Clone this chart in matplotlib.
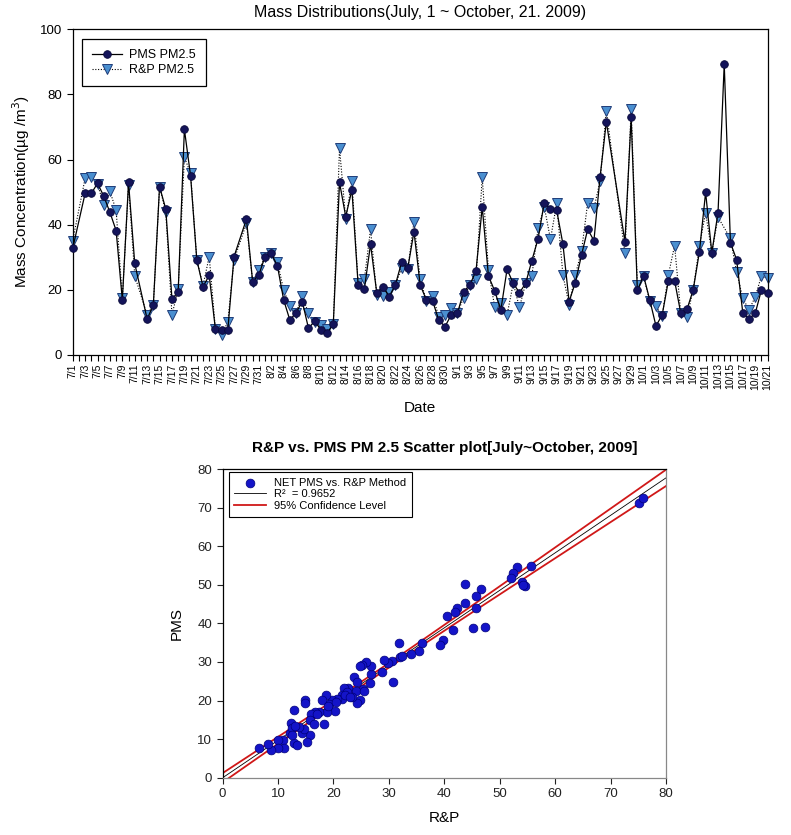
import numpy as np
import pandas as pd
import matplotlib
matplotlib.use('Agg')
import matplotlib.pyplot as plt

plt.rcParams['font.family'] = ['Liberation Sans', 'DejaVu Sans']

# daily values, 7/1 ~ 10/21 2009 (None = no data)
pms = [32.7, None, 49.6, 49.6, 52.7, 48.8, 43.8, 38.2, 16.9, 53.0,
       28.1, None, 11.0, 15.4, 51.7, 44.8, 17.1, 19.4, 69.3, 55.0,
       29.2, 21.0, 24.4, 7.9, 7.7, 7.7, 30.2, None, 41.7, 22.5,
       24.6, 30.2, 31.2, 27.3, 16.9, 10.7, 13.0, 16.4, 8.2, 10.4,
       7.7, 6.7, 9.5, 53.0, 42.5, 50.7, 21.5, 20.2, 34.0, 19.1,
       21.0, 17.9, 21.5, 28.4, 26.6, 37.9, 21.5, 16.9, 16.6, 10.7,
       8.7, 12.3, 12.8, 19.4, 21.5, 25.8, 45.5, 24.3, 19.7, 13.8,
       26.3, 22.0, 19.1, 22.0, 29.0, 35.7, 46.8, 44.8, 44.4, 34.1,
       16.4, 22.2, 30.7, 38.6, 35.1, 54.8, 71.6, None, None, 34.8,
       73.0, 19.8, 24.3, 16.9, 8.9, 12.3, 22.8, 22.8, 12.8, 14.0,
       20.0, 31.7, 49.9, 31.4, 43.7, 89.3, 34.5, 29.2, 12.8, 11.1,
       12.8, 20.0, 19.1]
rp = [35.1, None, 54.2, 54.8, 52.5, 46.1, 50.2, 44.5, 17.4, 52.2,
      24.3, None, 12.3, 15.4, 51.7, 43.8, 12.3, 20.2, 60.7, 55.8,
      29.2, 21.3, 30.2, 7.9, 6.1, 10.2, 29.2, None, 40.4, 22.5,
      26.1, 30.2, 31.2, 28.4, 20.0, 15.0, 13.0, 18.1, 12.8, 10.2,
      9.2, 7.9, 9.5, 63.5, 41.7, 53.5, 22.0, 23.2, 38.6, 18.4,
      18.1, 19.4, 21.5, 26.6, 26.3, 40.9, 23.3, 16.6, 18.1, 11.8,
      12.3, 14.3, 12.8, 17.6, 21.5, 23.2, 54.6, 26.1, 14.8, 15.9,
      12.3, 22.0, 14.6, 22.0, 24.3, 38.9, 45.5, 35.5, 46.6, 24.6,
      15.4, 24.6, 31.9, 46.8, 45.0, 53.5, 75.0, None, None, 31.2,
      75.5, 21.5, 24.1, 16.6, 15.0, 12.0, 24.6, 33.6, 12.8, 11.8,
      20.0, 33.5, 43.7, 31.4, 42.3, None, 35.8, 25.4, 17.4, 13.8,
      17.9, 24.3, 23.5]

# scatter: R&P (x) vs PMS (y)
sc_rp = [75.1, 75.8, 55.6, 53.2, 52.4, 52.0, 54.0, 54.6, 54.2, 43.8,
         46.7, 45.7, 43.7, 42.3, 45.8, 42.0, 40.5, 41.5, 45.1, 47.3,
         39.7, 39.3, 36.0, 35.4, 34.0, 32.0, 31.8, 30.7, 30.5, 29.8,
         29.2, 28.7, 26.7, 26.5, 26.8, 25.9, 25.1, 24.7, 25.4, 24.7,
         24.2, 23.7, 24.2, 24.1, 23.3, 22.7, 21.9, 22.4, 21.5, 21.6,
         20.6, 19.8, 20.3, 19.2, 18.8, 18.6, 18.3, 17.9, 17.3, 16.7,
         16.0, 15.8, 16.4, 15.8, 15.3, 14.9, 14.9, 14.4, 14.7, 13.7,
         12.8, 12.3, 12.1, 12.6, 13.1, 12.8, 13.5, 10.8, 11.1, 10.0,
         9.9, 8.7, 8.2, 6.6, 22.0, 23.0, 25.5, 19.0, 17.0, 12.5,
         20.5, 32.3]
sc_pms = [71.3, 72.6, 54.9, 54.5, 53.1, 51.8, 50.8, 49.7, 50.0, 50.1,
          48.9, 47.2, 45.2, 44.0, 43.9, 43.0, 41.9, 38.3, 38.7, 39.0,
          35.8, 34.4, 35.0, 32.9, 32.0, 31.2, 35.0, 24.7, 30.3, 29.8,
          30.5, 27.4, 26.9, 24.6, 29.0, 29.9, 29.3, 28.9, 22.9, 20.1,
          19.4, 26.0, 24.9, 22.4, 20.8, 23.2, 23.2, 22.2, 21.4, 20.4,
          20.4, 20.1, 17.3, 19.0, 17.0, 21.4, 13.9, 20.1, 17.0, 17.0,
          16.4, 14.9, 13.9, 11.1, 9.3, 20.1, 19.4, 11.7, 12.5, 13.2,
          17.5, 14.1, 11.5, 13.0, 13.4, 8.9, 8.5, 9.9, 7.8, 9.7,
          7.8, 7.2, 8.7, 7.8, 21.5, 21.0, 22.5, 18.5, 16.5, 11.0,
          19.5, 31.5]

dates = pd.date_range('2009-07-01', '2009-10-21', freq='D')
df = pd.DataFrame({'pms': pms, 'rp': rp}, index=dates, dtype=float)
day = np.arange(len(df))
tick_labels = [f'{d.month}/{d.day}' for d in dates]

fig = plt.figure(figsize=(7.91, 8.35), dpi=100)

# ---- time series ----
ax = fig.add_axes([0.0919, 0.5749, 0.8786, 0.390])
m = df['rp'].notna().values
ax.plot(day[m], df['rp'].values[m], ls=(0, (1, 1.5)), color='black', lw=0.8,
        marker='v', ms=6.5, mfc='#4a8fd0', mec='#1f3c78', mew=0.7,
        label='R&P PM2.5', zorder=2, clip_on=False)
m = df['pms'].notna().values
ax.plot(day[m], df['pms'].values[m], ls='-', color='black', lw=0.9,
        marker='o', ms=5.5, mfc='#14145a', mec='#0a0a3a', mew=0.6,
        label='PMS PM2.5', zorder=3, clip_on=False)

ax.set_xlim(0, len(df) - 1)
ax.set_ylim(0, 100)
ax.set_yticks(range(0, 101, 20))
ax.set_xticks(day)
ax.set_xticklabels([t if i % 2 == 0 else '' for i, t in enumerate(tick_labels)],
                   rotation=90, fontsize=7.5)
ax.tick_params(axis='x', direction='out', length=4, width=0.8, pad=2)
ax.tick_params(axis='y', direction='out', length=4, width=0.8, labelsize=9.5)
for s in ax.spines.values():
    s.set_linewidth(0.9)
ax.set_xlabel('Date', fontsize=11, labelpad=8)
ax.set_ylabel('Mass Concentration(\u00b5g /m$^3$)', fontsize=11, labelpad=6)
ax.set_title('Mass Distributions(July, 1 ~ October, 21. 2009)', fontsize=11.5, pad=9)

h, l = ax.get_legend_handles_labels()
leg = ax.legend(h[::-1], l[::-1], loc='upper left', bbox_to_anchor=(0.013, 0.97),
                borderaxespad=0, fancybox=False, edgecolor='black', framealpha=1,
                fontsize=9, handlelength=2.4, borderpad=0.8, labelspacing=0.25,
                handletextpad=0.6)
leg.get_frame().set_linewidth(0.9)

# ---- scatter ----
ax2 = fig.add_axes([0.2815, 0.0686, 0.5604, 0.3697])
x = np.array(sc_rp)
y = np.array(sc_pms)
b, a = np.polyfit(x, y, 1)
n = len(x)
resid = y - (a + b * x)
s = np.sqrt(np.sum(resid ** 2) / (n - 2))
xx = np.linspace(0, 80, 200)
se = s * np.sqrt(1 / n + (xx - x.mean()) ** 2 / np.sum((x - x.mean()) ** 2))
yy = a + b * xx

ax2.scatter(x, y, s=40, c='#1414c8', edgecolors='#00007a', linewidths=0.5,
            zorder=3, label='NET PMS vs. R&P Method')
ax2.plot(xx, yy, color='black', lw=0.6, zorder=2, label='R\u00b2  = 0.9652')
ax2.plot(xx, yy + 1.98 * se, color='#d01818', lw=1.3, zorder=2,
         label='95% Confidence Level')
ax2.plot(xx, yy - 1.98 * se, color='#d01818', lw=1.3, zorder=2)

ax2.set_xlim(0, 80)
ax2.set_ylim(0, 80)
ax2.set_xticks(range(0, 81, 10))
ax2.set_yticks(range(0, 81, 10))
ax2.tick_params(direction='out', length=4, width=0.8, labelsize=9.5, colors='#222222')
for sname in ['bottom', 'right']:
    ax2.spines[sname].set_color('#888888')
for sp in ax2.spines.values():
    sp.set_linewidth(0.9)
ax2.spines['left'].set_color('black')
ax2.spines['top'].set_color('black')
ax2.set_xlabel('R&P', fontsize=11, labelpad=8)
ax2.set_ylabel('PMS', fontsize=11, labelpad=10)
ax2.set_title('R&P vs. PMS PM 2.5 Scatter plot[July~October, 2009]',
              fontsize=11, fontweight='bold', pad=12)

leg2 = ax2.legend(loc='upper left', bbox_to_anchor=(0.014, 0.99), borderaxespad=0,
                  fancybox=False, edgecolor='black', framealpha=1, fontsize=8,
                  handlelength=2.8, borderpad=0.5, labelspacing=0.15)
leg2.get_frame().set_linewidth(0.8)

plt.savefig('out.png', dpi=100, facecolor='white')
